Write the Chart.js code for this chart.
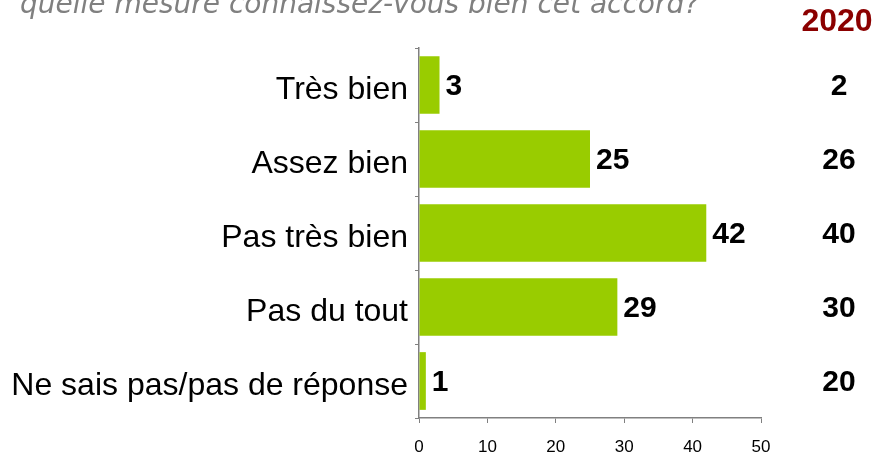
<!DOCTYPE html>
<html>
<head>
<meta charset="utf-8">
<script src="https://cdn.jsdelivr.net/npm/chart.js@4"></script>
<style>
  html, body { margin: 0; padding: 0; background: #fff; }
  #wrap { width: 880px; height: 457px; position: relative; }
</style>
</head>
<body>
<div id="wrap"><canvas id="accordChart" width="880" height="457"></canvas></div>
<script>
// donnees
const categories = ['Très bien', 'Assez bien', 'Pas très bien', 'Pas du tout', 'Ne sais pas/pas de réponse'];
const valeurs2021 = [3, 25, 42, 29, 1];
const valeurs2020 = [2, 26, 40, 30, 20];
const ticksX = [0, 10, 20, 30, 40, 50];
const titre = 'quelle mesure connaissez-vous bien cet accord?';
const annee = '2020';

const police = '"Liberation Sans", Arial, sans-serif';

// etiquettes, colonne 2020 et titre
const decorPlugin = {
    id: 'decor',
    afterDatasetsDraw(chart) {
        const ctx = chart.ctx;
        const meta = chart.getDatasetMeta(0);
        const yScale = chart.scales.y;
        ctx.save();
        ctx.fillStyle = '#000';
        ctx.font = 'bold 30px ' + police;
        ctx.textBaseline = 'middle';
        ctx.textAlign = 'left';
        meta.data.forEach(function (bar, i) {
            ctx.fillText(String(valeurs2021[i]), bar.x + 6, bar.y + 2);
        });

        ctx.textAlign = 'center';
        valeurs2020.forEach(function (v, i) {
            ctx.fillText(String(v), 839, yScale.getPixelForValue(i) + 2);
        });

        ctx.fillStyle = '#8b0000';
        ctx.font = 'bold 32px ' + police;
        ctx.fillText(annee, 837, 22);

        ctx.fillStyle = '#808080';
        ctx.font = 'italic 28px "DejaVu Sans", sans-serif';
        ctx.textAlign = 'left';
        ctx.textBaseline = 'alphabetic';
        ctx.fillText(titre, 20, 13);
        ctx.restore();
    }
};

new Chart(document.getElementById('accordChart').getContext('2d'), {
    type: 'bar',
    data: {
        labels: categories,
        datasets: [{
            label: '2021',
            data: valeurs2021,
            backgroundColor: '#99cc00',
            borderWidth: 0,
            categoryPercentage: 1,
            barPercentage: 0.78
        }]
    },
    options: {
        indexAxis: 'y',
        responsive: false,
        animation: false,
        layout: { padding: { top: 48, right: 119, left: 0, bottom: 0 } },
        plugins: {
            legend: { display: false },
            tooltip: { enabled: false }
        },
        scales: {
            x: {
                min: 0,
                max: 50,
                afterBuildTicks(scale) {
                    scale.ticks = ticksX.map(v => ({ value: v }));
                },
                afterFit(scale) { scale.height = 39; },
                grid: { drawOnChartArea: false, drawTicks: true, tickLength: 5, color: '#808080' },
                border: { display: true, color: '#808080', width: 1.5 },
                ticks: { color: '#000', font: { family: police, size: 17 }, padding: 14 }
            },
            y: {
                afterFit(scale) { scale.width = 419; },
                grid: { drawOnChartArea: false, drawTicks: true, tickLength: 4, color: '#808080' },
                border: { display: true, color: '#808080', width: 1.5 },
                ticks: { color: '#000', font: { family: police, size: 32 }, padding: 7, labelOffset: 5 }
            }
        }
    },
    plugins: [decorPlugin]
});
</script>
</body>
</html>
